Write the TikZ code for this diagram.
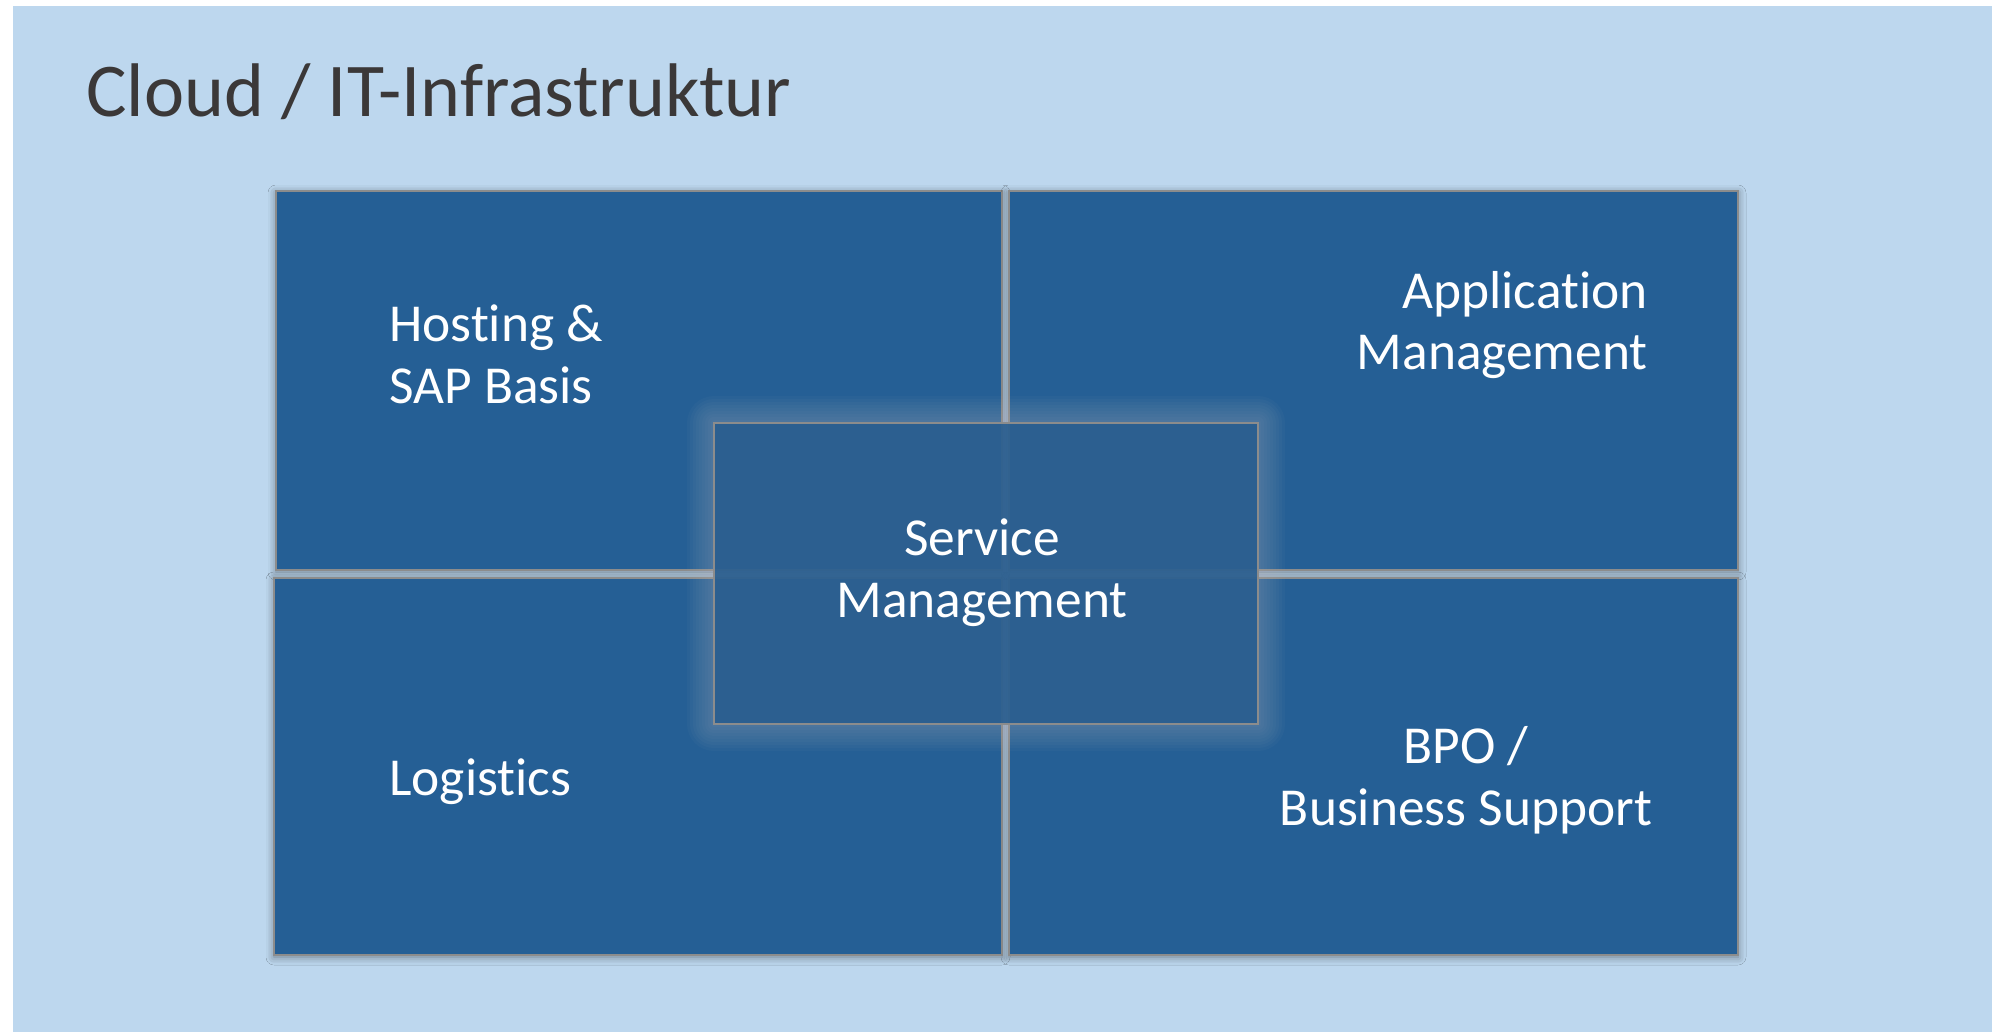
\documentclass[tikz,border=0pt]{standalone}
\usepackage{fontspec}
\setmainfont{Carlito}[Ligatures=NoCommon]
\usepackage{tikz}
\usepackage{xcolor}
\usetikzlibrary{shadows.blur}
\definecolor{bgblue}{HTML}{BDD7EE}
\definecolor{boxblue}{HTML}{255F95}
\definecolor{centreblue}{HTML}{2A5E8F}
\definecolor{titlegrey}{HTML}{3B3838}
\definecolor{edgegrey}{HTML}{8C8C8C}
\tikzset{
    area-box/.style = {draw=edgegrey, fill=boxblue, line width=1pt, rectangle, anchor=north west, inner sep=0pt, outer sep=0pt,
        blur shadow={shadow xshift=0pt, shadow yshift=-1pt, shadow blur radius=4pt, shadow opacity=45}},
    centre-box/.style = {draw=edgegrey, fill=centreblue, fill opacity=0.92, line width=1pt, rectangle, anchor=north west, inner sep=0pt, outer sep=0pt},
    area-text/.style = {text=white, font=\fontsize{26.7}{31}\selectfont, inner sep=0pt},
    glow/.style = {fill=gray!50!white, opacity=0.035},
}

\begin{document}
\begin{tikzpicture}[x=0.5pt, y=-0.5pt]
\useasboundingbox (0,0) rectangle (1992,1032);
\fill[bgblue] (13,6) rectangle (1992,1032);
\node[anchor=base west, inner sep=0pt, text=titlegrey, font=\fontsize{38}{46}\selectfont] (title) at (86,117) {Cloud / IT-Infrastruktur};

\node[area-box, minimum width=363pt, minimum height=189.5pt] (hosting) at (276,191) {};
\node[area-box, minimum width=364.5pt, minimum height=189.5pt] (application) at (1009,191) {};
\node[area-box, minimum width=364pt, minimum height=188.5pt] (logistics) at (274,578) {};
\node[area-box, minimum width=364.5pt, minimum height=188.5pt] (bpo) at (1009,578) {};

% soft glow round the centre
\foreach \g in {3,6,...,27}
    \fill[glow, rounded corners=\g*0.5pt] (714-\g,423-\g) rectangle (1258+\g,724+\g);
\node[centre-box, minimum width=272pt, minimum height=150.5pt] (service) at (714,423) {};

\node[area-text, anchor=base west, align=left] (hosting-text) at (389,403) {Hosting \&\\SAP Basis};
\node[area-text, anchor=base east, align=right] (application-text) at (1648,370) {Application\\Management};
\node[area-text, anchor=base west] (logistics-text) at (389,795) {Logistics};
\node[area-text, anchor=base, align=center] (bpo-text) at (1466,825) {BPO /\\Business Support};
\node[area-text, anchor=base, align=center] (service-text) at (982,617) {Service\\Management};
\end{tikzpicture}
\end{document}
